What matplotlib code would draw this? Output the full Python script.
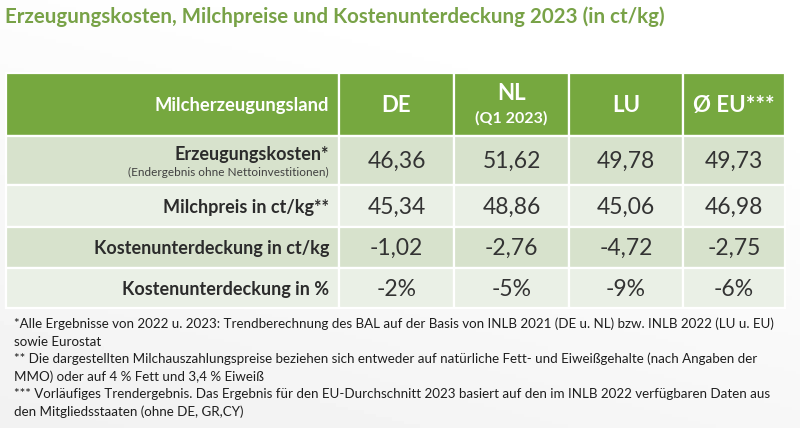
import matplotlib.pyplot as plt
import numpy as np
from matplotlib.patches import Rectangle

countries = ['DE', 'NL', 'LU', 'Ø EU***']
country_notes = ['', '(Q1 2023)', '', '']
row_labels = ['Erzeugungskosten*', 'Milchpreis in ct/kg**',
              'Kostenunterdeckung in ct/kg', 'Kostenunterdeckung in %']
row_notes = ['(Endergebnis ohne Nettoinvestitionen)', '', '', '']
kosten = [46.36, 51.62, 49.78, 49.73]
milchpreis = [45.34, 48.86, 45.06, 46.98]
unterdeckung = [-1.02, -2.76, -4.72, -2.75]
unterdeckung_pct = [-2, -5, -9, -6]

title = 'Erzeugungskosten, Milchpreise und Kostenunterdeckung 2023 (in ct/kg)'
header_label = 'Milcherzeugungsland'
footnotes = [
    '*Alle Ergebnisse von 2022 u. 2023: Trendberechnung des BAL auf der Basis von INLB 2021 (DE u. NL) bzw. INLB 2022 (LU u. EU)',
    'sowie Eurostat',
    '** Die dargestellten Milchauszahlungspreise beziehen sich entweder auf natürliche Fett- und Eiweißgehalte (nach Angaben der',
    'MMO) oder auf 4 % Fett und 3,4 % Eiweiß',
    '*** Vorläufiges Trendergebnis. Das Ergebnis für den EU-Durchschnitt 2023 basiert auf den im INLB 2022 verfügbaren Daten aus',
    'den Mitgliedsstaaten (ohne DE, GR,CY)',
]

# colours
green = '#76a83f'
row_dark = '#d7e2cc'
row_light = '#eaf0e6'
title_green = '#78a247'
text_dark = '#2b2b2b'

plt.rcParams['font.family'] = ['Lato', 'DejaVu Sans']

fig = plt.figure(figsize=(8, 4.28), dpi=100)
ax = fig.add_axes([0, 0, 1, 1])
ax.set_xlim(0, 800)
ax.set_ylim(428, 0)
ax.axis('off')

# soft background gradient (white top right -> light grey bottom left)
gx, gy = np.meshgrid(np.linspace(0, 1, 200), np.linspace(0, 1, 120))
grad = 1 - 0.06 * np.clip(0.75 * gy + 0.35 * (1 - gx) - 0.2, 0, 1)
ax.imshow(grad, extent=(0, 800, 428, 0), cmap='gray', vmin=0, vmax=1,
          aspect='auto', zorder=0)

ax.text(5, 17, title, fontsize=14.8, fontweight='bold', color=title_green,
        va='center', ha='left')

# table geometry
col_edges = [6, 339, 454, 569, 683, 785]
row_edges = [73, 136, 185, 227, 268, 308]

# header row
for c in range(len(col_edges) - 1):
    ax.add_patch(Rectangle((col_edges[c], row_edges[0]),
                           col_edges[c + 1] - col_edges[c], row_edges[1] - row_edges[0],
                           facecolor=green, edgecolor='white', lw=1.6, zorder=2))
hy = (row_edges[0] + row_edges[1]) / 2
ax.text(col_edges[1] - 10, hy + 1, header_label, fontsize=13.2, fontweight='bold',
        color='white', ha='right', va='center', zorder=3)
for i, (name, note) in enumerate(zip(countries, country_notes)):
    cx = (col_edges[i + 1] + col_edges[i + 2]) / 2
    if note:
        ax.text(cx, hy - 11, name, fontsize=16, fontweight='bold', color='white',
                ha='center', va='center', zorder=3)
        ax.text(cx, hy + 14, note, fontsize=11.5, fontweight='bold', color='white',
                ha='center', va='center', zorder=3)
    else:
        ax.text(cx, hy + 1, name, fontsize=16, fontweight='bold', color='white',
                ha='center', va='center', zorder=3)

# body rows
values = [
    [f'{v:.2f}'.replace('.', ',') for v in kosten],
    [f'{v:.2f}'.replace('.', ',') for v in milchpreis],
    [f'{v:.2f}'.replace('.', ',') for v in unterdeckung],
    [f'{v}%' for v in unterdeckung_pct],
]
for r in range(len(row_labels)):
    y0, y1 = row_edges[r + 1], row_edges[r + 2]
    fc = row_dark if r % 2 == 0 else row_light
    for c in range(len(col_edges) - 1):
        ax.add_patch(Rectangle((col_edges[c], y0), col_edges[c + 1] - col_edges[c], y1 - y0,
                               facecolor=fc, edgecolor='white', lw=1.6, zorder=2))
    ym = (y0 + y1) / 2
    if row_notes[r]:
        ax.text(col_edges[1] - 10, ym - 6, row_labels[r], fontsize=13, fontweight='bold',
                color=text_dark, ha='right', va='center', zorder=3)
        ax.text(col_edges[1] - 10, ym + 12, row_notes[r], fontsize=8.5,
                color='#404040', ha='right', va='center', zorder=3)
    else:
        ax.text(col_edges[1] - 10, ym + 1, row_labels[r], fontsize=13, fontweight='bold',
                color=text_dark, ha='right', va='center', zorder=3)
    for c, val in enumerate(values[r]):
        cx = (col_edges[c + 1] + col_edges[c + 2]) / 2
        ax.text(cx, ym + 1, val, fontsize=16.5, color='#333333',
                ha='center', va='center', zorder=3)

# footnotes
for i, line in enumerate(footnotes):
    ax.text(14, 324 + i * 17.6, line, fontsize=9.6, color='#1e1e1e',
            ha='left', va='center', zorder=3)

fig.savefig('out.png', dpi=100)
